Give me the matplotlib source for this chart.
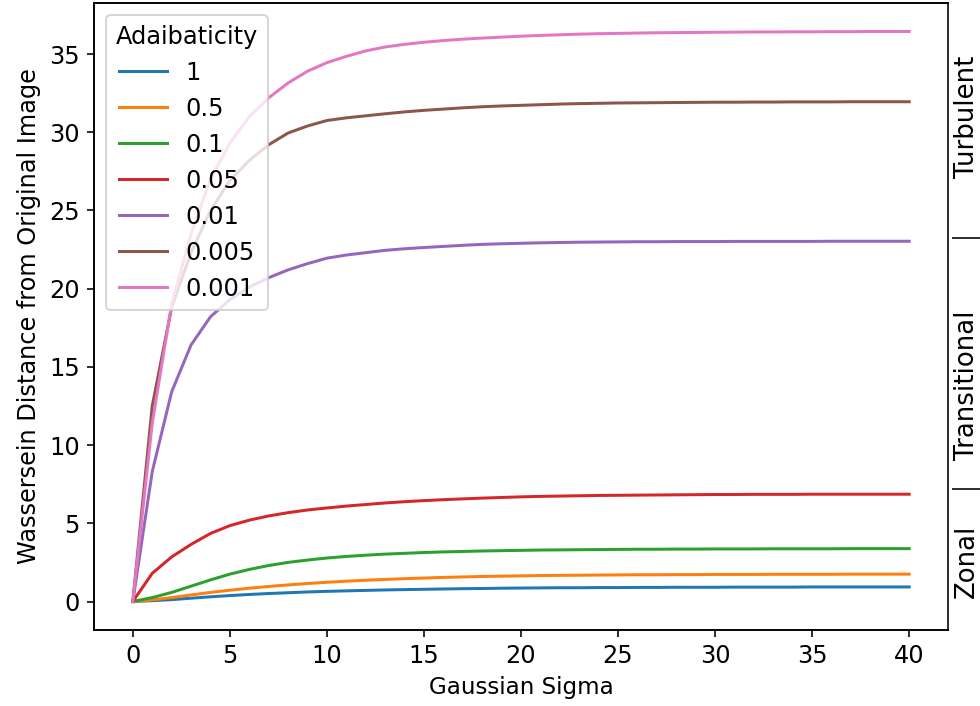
import matplotlib
matplotlib.use("Agg")
import matplotlib.pyplot as plt
import numpy as np

# Gaussian blur widths applied to the vorticity fields
sigma = list(range(0, 41))

# Adiabaticity parameter for each run
adiabaticity = ["1", "0.5", "0.1", "0.05", "0.01", "0.005", "0.001"]

dist_1 = [0, 0.05, 0.12, 0.21, 0.3, 0.38, 0.45, 0.51, 0.56, 0.61, 0.65, 0.68, 0.71,
          0.74, 0.76, 0.78, 0.8, 0.82, 0.83, 0.85, 0.86, 0.87, 0.88, 0.88, 0.89,
          0.89, 0.9, 0.9, 0.91, 0.91, 0.91, 0.92, 0.92, 0.92, 0.92, 0.93, 0.93,
          0.93, 0.93, 0.93, 0.93]
dist_05 = [0, 0.1, 0.25, 0.42, 0.58, 0.72, 0.85, 0.96, 1.06, 1.15, 1.23, 1.3, 1.36,
           1.41, 1.46, 1.5, 1.54, 1.57, 1.6, 1.62, 1.64, 1.66, 1.67, 1.68, 1.69,
           1.7, 1.71, 1.71, 1.72, 1.72, 1.73, 1.73, 1.73, 1.74, 1.74, 1.74, 1.74,
           1.75, 1.75, 1.75, 1.75]
dist_01 = [0, 0.25, 0.58, 0.98, 1.38, 1.75, 2.05, 2.3, 2.5, 2.65, 2.78, 2.88, 2.96,
           3.03, 3.08, 3.13, 3.17, 3.2, 3.23, 3.25, 3.27, 3.29, 3.3, 3.31, 3.32,
           3.33, 3.34, 3.34, 3.35, 3.35, 3.36, 3.36, 3.36, 3.37, 3.37, 3.37, 3.37,
           3.38, 3.38, 3.38, 3.38]
dist_005 = [0, 1.8, 2.85, 3.65, 4.35, 4.85, 5.2, 5.47, 5.68, 5.85, 5.98, 6.1, 6.2,
            6.3, 6.38, 6.45, 6.51, 6.56, 6.61, 6.65, 6.69, 6.72, 6.74, 6.76, 6.78,
            6.79, 6.8, 6.81, 6.82, 6.83, 6.84, 6.84, 6.85, 6.85, 6.85, 6.86, 6.86,
            6.86, 6.86, 6.86, 6.86]
dist_001 = [0, 8.3, 13.4, 16.4, 18.2, 19.3, 20.1, 20.7, 21.2, 21.6, 21.95, 22.15,
            22.3, 22.45, 22.55, 22.63, 22.7, 22.77, 22.83, 22.87, 22.9, 22.93, 22.95,
            22.97, 22.98, 22.99, 23.0, 23.0, 23.01, 23.01, 23.01, 23.02, 23.02, 23.02,
            23.02, 23.02, 23.03, 23.03, 23.03, 23.03, 23.03]
dist_0005 = [0, 12.5, 18.8, 22.3, 25.0, 26.9, 28.2, 29.2, 29.95, 30.4, 30.75, 30.92,
             31.05, 31.18, 31.3, 31.4, 31.48, 31.56, 31.63, 31.68, 31.72, 31.76, 31.8,
             31.83, 31.85, 31.87, 31.88, 31.89, 31.9, 31.91, 31.92, 31.92, 31.93,
             31.93, 31.94, 31.94, 31.94, 31.95, 31.95, 31.95, 31.95]
dist_0001 = [0, 11.4, 19.0, 23.5, 27.0, 29.3, 31.0, 32.2, 33.15, 33.9, 34.45, 34.85,
             35.2, 35.45, 35.62, 35.75, 35.86, 35.95, 36.02, 36.08, 36.14, 36.19,
             36.23, 36.27, 36.3, 36.32, 36.34, 36.36, 36.37, 36.38, 36.39, 36.4,
             36.41, 36.41, 36.42, 36.42, 36.43, 36.43, 36.44, 36.44, 36.44]

series = [dist_1, dist_05, dist_01, dist_005, dist_001, dist_0005, dist_0001]

# Flow regimes marked along the right-hand side
regime_bounds = [7.2, 23.25]
regime_names = ["Zonal", "Transitional", "Turbulent"]
regime_centers = [2.6, 13.8, 31.0]

plt.rcParams["font.size"] = 12

DPI = 144
fig = plt.figure(figsize=(980 / DPI, 706 / DPI), dpi=DPI)
ax = fig.add_axes([94 / 980, 76 / 706, (948 - 94) / 980, (630 - 3) / 706])

for label, vals in zip(adiabaticity, series):
    ax.plot(sigma, vals, label=label)

ax.set_xlabel("Gaussian Sigma", fontsize=11.5)
ax.set_ylabel("Wassersein Distance from Original Image", fontsize=12)
ax.set_xticks(np.arange(0, 41, 5))
ax.tick_params(labelsize=12)
ax.legend(title="Adaibaticity", loc="upper left", fontsize=12, title_fontsize=12)

# Secondary axis carrying the regime separators and names
ax2 = ax.twinx()
ax2.set_ylim(ax.get_ylim())
ax2.spines["right"].set_position(("outward", 2))
ax2.spines["right"].set_visible(False)
ax2.set_yticks(regime_bounds)
ax2.set_yticklabels([])
ax2.tick_params(axis="y", which="major", length=16, width=0.8)
ax2.set_yticks(regime_centers, minor=True)
ax2.set_yticklabels(regime_names, minor=True, rotation=90, va="center",
                    fontsize=13)
ax2.tick_params(axis="y", which="minor", length=0, pad=1)

fig.savefig("out.png", dpi=DPI)
